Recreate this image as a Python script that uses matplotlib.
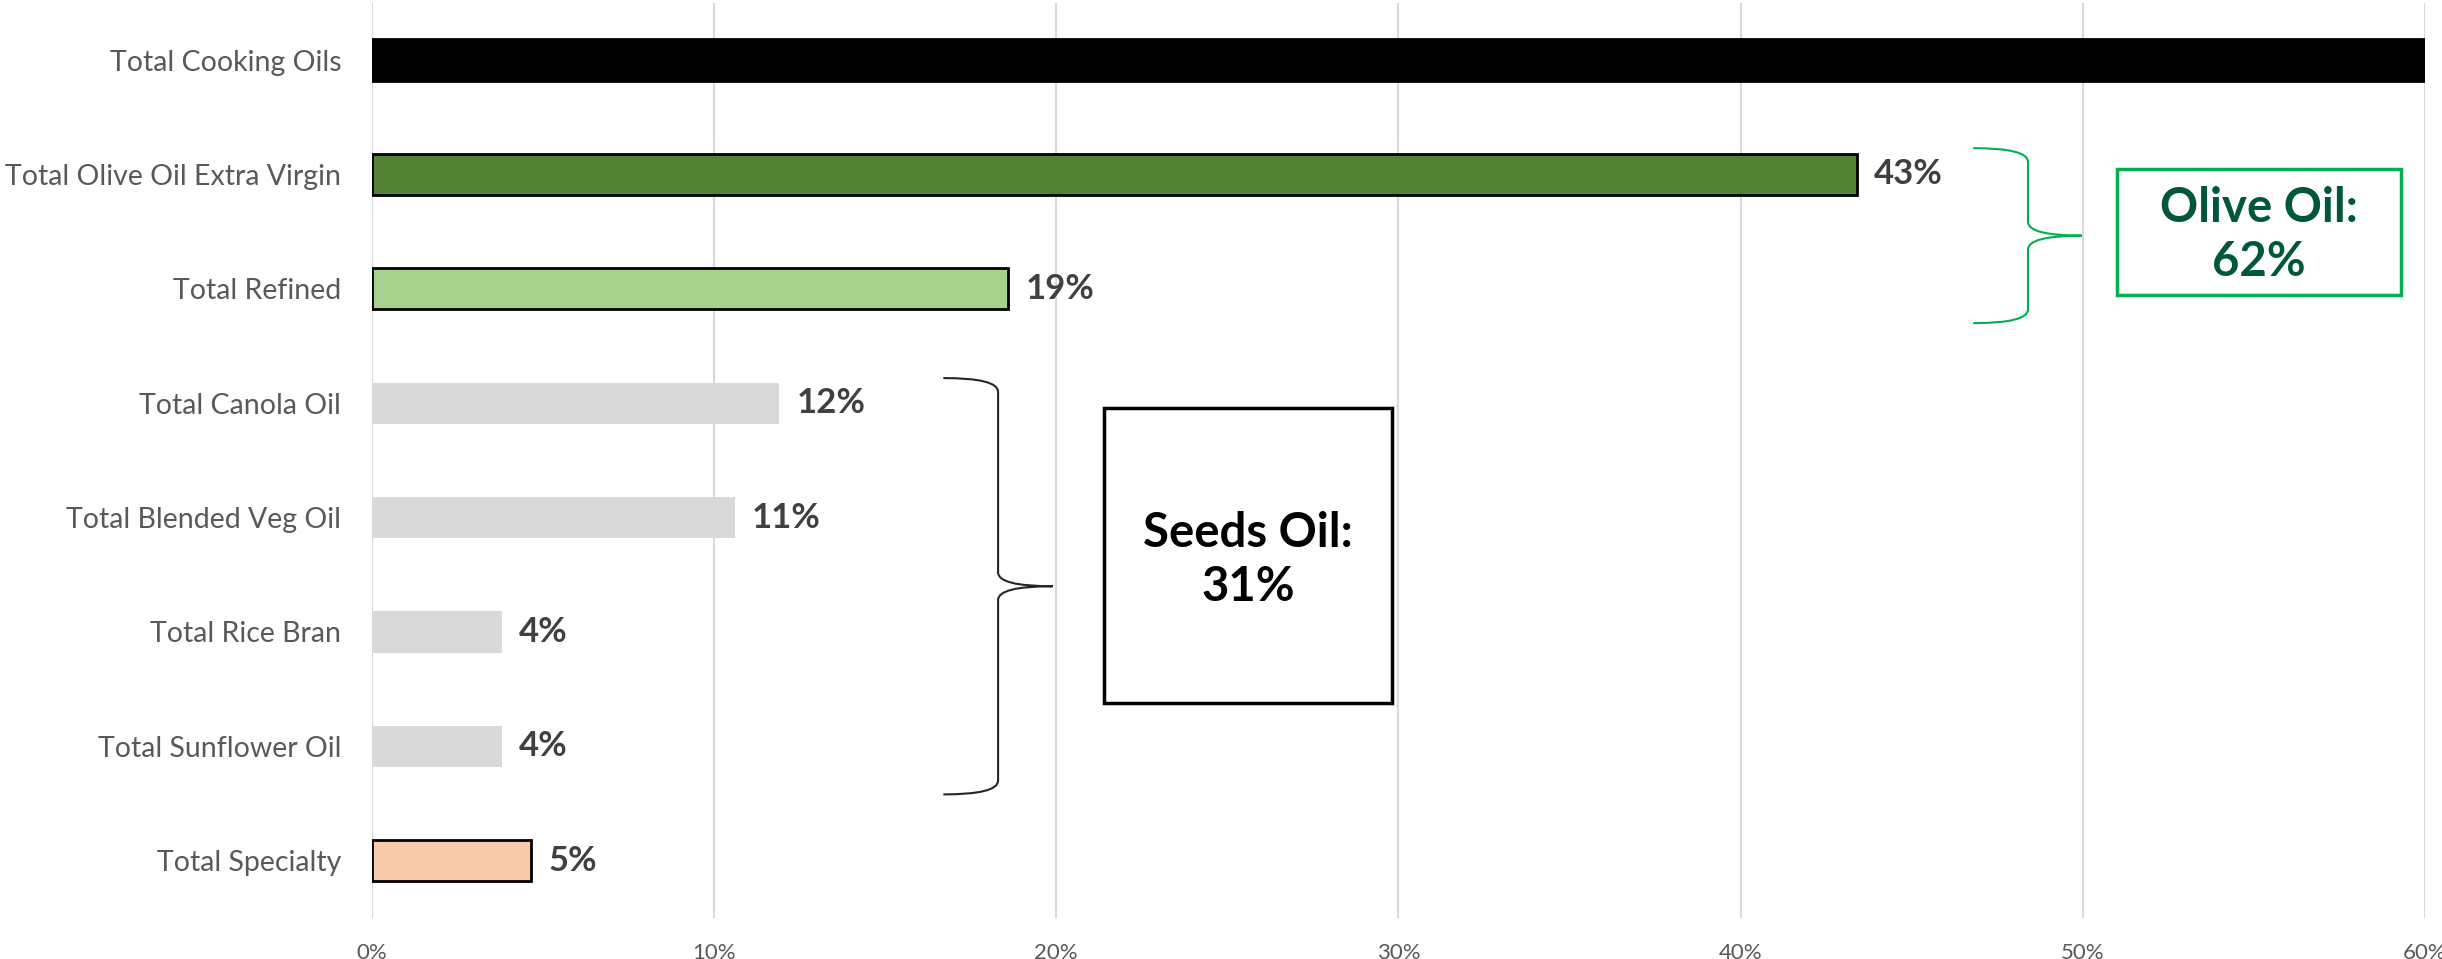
import numpy as np
import matplotlib
matplotlib.use('Agg')
import matplotlib.pyplot as plt
from matplotlib.path import Path
from matplotlib.patches import PathPatch, Rectangle
from matplotlib.ticker import PercentFormatter

plt.rcParams['font.family'] = ['Lato', 'DejaVu Sans']

# data
categories = ['Total Cooking Oils', 'Total Olive Oil Extra Virgin', 'Total Refined',
              'Total Canola Oil', 'Total Blended Veg Oil', 'Total Rice Bran',
              'Total Sunflower Oil', 'Total Specialty']
values = [100, 43.4, 18.6, 11.9, 10.6, 3.8, 3.8, 4.65]
value_labels = ['', '43%', '19%', '12%', '11%', '4%', '4%', '5%']
bar_colors = ['#000000', '#548235', '#A9D18E', '#D9D9D9', '#D9D9D9', '#D9D9D9', '#D9D9D9', '#F8CBAD']
bar_edges = ['#000000', '#000000', '#000000', 'none', 'none', 'none', 'none', '#000000']
xticks = [0, 10, 20, 30, 40, 50, 60]


def brace(ax, x0, x1, xtip, ytop, ybot, r, color, lw):
    ymid = (ytop + ybot) / 2
    verts = [(x0, ytop), (x1, ytop), (x1, ytop + r),
             (x1, ymid - r), (x1, ymid), (xtip, ymid),
             (x1, ymid), (x1, ymid + r),
             (x1, ybot - r), (x1, ybot), (x0, ybot)]
    codes = [Path.MOVETO, Path.CURVE3, Path.CURVE3,
             Path.LINETO, Path.CURVE3, Path.CURVE3,
             Path.CURVE3, Path.CURVE3,
             Path.LINETO, Path.CURVE3, Path.CURVE3]
    ax.add_patch(PathPatch(Path(verts, codes), fc='none', ec=color, lw=lw, clip_on=False))


fig = plt.figure(figsize=(24.42, 9.59), dpi=100)
ax = fig.add_axes([0.1523, 0.0428, 0.8407, 0.9542])

y = np.arange(len(categories))
ax.barh(y, values, height=0.36, color=bar_colors, edgecolor=bar_edges, linewidth=2, zorder=3)

for i, (v, lab) in enumerate(zip(values, value_labels)):
    if lab:
        ax.text(v + 0.5, i, lab, va='center', ha='left', fontsize=25,
                fontweight='bold', color='#404040', zorder=4)

ax.set_xlim(0, 60)
ax.set_ylim(len(categories) - 0.5, -0.5)
ax.set_xticks(xticks)
ax.xaxis.set_major_formatter(PercentFormatter(decimals=0))
ax.set_yticks(y)
ax.set_yticklabels(categories)
ax.tick_params(axis='y', length=0, pad=22, labelsize=20.5, labelcolor='#595959')
ax.tick_params(axis='x', length=0, pad=18, labelsize=16, labelcolor='#595959')
ax.grid(axis='x', color='#D9D9D9', linewidth=1.5, zorder=0)
for s in ax.spines.values():
    s.set_visible(False)
ax.axvline(0, color='#D9D9D9', lw=1.5, zorder=1)

# olive oil group
brace(ax, 46.8, 48.4, 50.0, 0.77, 2.30, 0.12, '#00B050', 1.5)
ax.add_patch(Rectangle((51.0, 0.95), 8.3, 1.1, fc='white', ec='#00B050', lw=2.5, clip_on=False, zorder=5))
ax.text(55.15, 1.53, 'Olive Oil:\n62%', ha='center', va='center', fontsize=34,
        fontweight='bold', color='#00573A', linespacing=1.3, zorder=6, clip_on=False)

# seeds oil group
brace(ax, 16.7, 18.3, 19.9, 2.78, 6.42, 0.12, '#262626', 1.5)
ax.add_patch(Rectangle((21.4, 3.04), 8.4, 2.58, fc='white', ec='#000000', lw=2.5, zorder=5))
ax.text(25.6, 4.37, 'Seeds Oil:\n31%', ha='center', va='center', fontsize=34,
        fontweight='bold', color='#000000', linespacing=1.3, zorder=6)

fig.savefig('out.png', dpi=100)
